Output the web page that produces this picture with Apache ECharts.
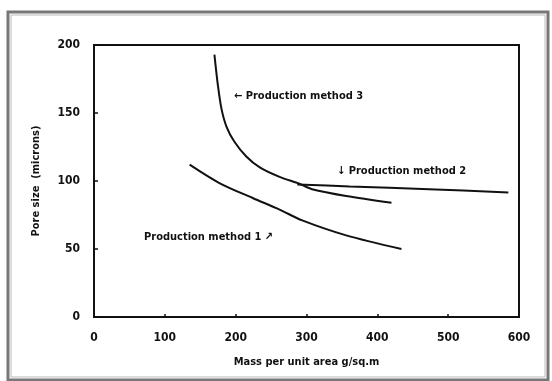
<!DOCTYPE html>
<html>
<head>
<meta charset="utf-8">
<script src="https://cdn.jsdelivr.net/npm/echarts@6/dist/echarts.min.js"></script>
<style>
  html, body { margin: 0; padding: 0; background: #fff; }
  #chart { width: 552px; height: 381px; }
</style>
</head>
<body>
<div id="chart"></div>
<script>
// curves: [mass g/sq.m, pore size microns]
var method1 = [[135, 112], [177, 98.5], [224, 87.5], [262, 79], [294, 71], [356, 60], [434, 50]];
var method2 = [[287, 97.5], [361, 96], [473, 94], [585, 91.5]];
var method3 = [[170, 193], [175, 170], [180, 153], [187, 140], [198, 129], [215, 118], [234, 110], [262, 103], [290, 98], [308, 94], [356, 89], [420, 84]];
var xTicks = [0, 100, 200, 300, 400, 500, 600];
var yTicks = [0, 50, 100, 150, 200];

var font = '"DejaVu Sans Condensed", "DejaVu Sans", sans-serif';

var chart = echarts.init(document.getElementById('chart'));

function curve(name, data) {
  return {
    name: name,
    type: 'line',
    data: data,
    smooth: 0.3,
    showSymbol: false,
    lineStyle: { color: '#111', width: 2 }
  };
}

var option = {
  animation: false,
  backgroundColor: '#fff',
  grid: {
    left: 94, top: 45, right: 33, bottom: 64,
    show: true, borderColor: '#111', borderWidth: 2
  },
  xAxis: {
    type: 'value', min: 0, max: 600, interval: 100,
    name: 'Mass per unit area g/sq.m',
    nameLocation: 'middle', nameGap: 40,
    nameTextStyle: { color: '#111', fontFamily: font, fontWeight: 'bold', fontSize: 11 },
    axisLine: { lineStyle: { color: '#111', width: 2 } },
    axisTick: { inside: true, length: 3, lineStyle: { color: '#111', width: 1.5 } },
    axisLabel: {
      color: '#111', fontFamily: font, fontWeight: 'bold', fontSize: 12, margin: 15,
      formatter: function (v) { return xTicks.indexOf(v) >= 0 ? String(v) : ''; }
    },
    splitLine: { show: false }
  },
  yAxis: {
    type: 'value', min: 0, max: 200, interval: 50,
    name: 'Pore size  (microns)',
    nameLocation: 'middle', nameGap: 52, nameRotate: 90,
    nameTextStyle: { color: '#111', fontFamily: font, fontWeight: 'bold', fontSize: 11 },
    axisLine: { lineStyle: { color: '#111', width: 2 } },
    axisTick: { inside: true, length: 4, lineStyle: { color: '#111', width: 1.5 } },
    axisLabel: {
      color: '#111', fontFamily: font, fontWeight: 'bold', fontSize: 12, margin: 14,
      formatter: function (v) { return yTicks.indexOf(v) >= 0 ? String(v) : ''; }
    },
    splitLine: { show: false }
  },
  series: [
    curve('Production method 1', method1),
    curve('Production method 2', method2),
    curve('Production method 3', method3)
  ],
  graphic: [
    {
      type: 'rect', shape: { x: 8, y: 12, width: 540, height: 368 },
      style: { fill: 'none', stroke: '#777', lineWidth: 3 }, silent: true
    },
    {
      type: 'rect', shape: { x: 11, y: 15, width: 534, height: 362 },
      style: { fill: 'none', stroke: '#bbb', lineWidth: 1 }, silent: true
    },
    {
      type: 'text', left: 234, top: 91,
      style: { text: '\u2190 Production method 3', fill: '#111', font: 'bold 11px ' + font }
    },
    {
      type: 'text', left: 337, top: 166,
      style: { text: '\u2193 Production method 2', fill: '#111', font: 'bold 11px ' + font }
    },
    {
      type: 'text', left: 144, top: 232,
      style: { text: 'Production method 1 \u2197', fill: '#111', font: 'bold 11px ' + font }
    }
  ]
};

chart.setOption(option);
</script>
</body>
</html>
